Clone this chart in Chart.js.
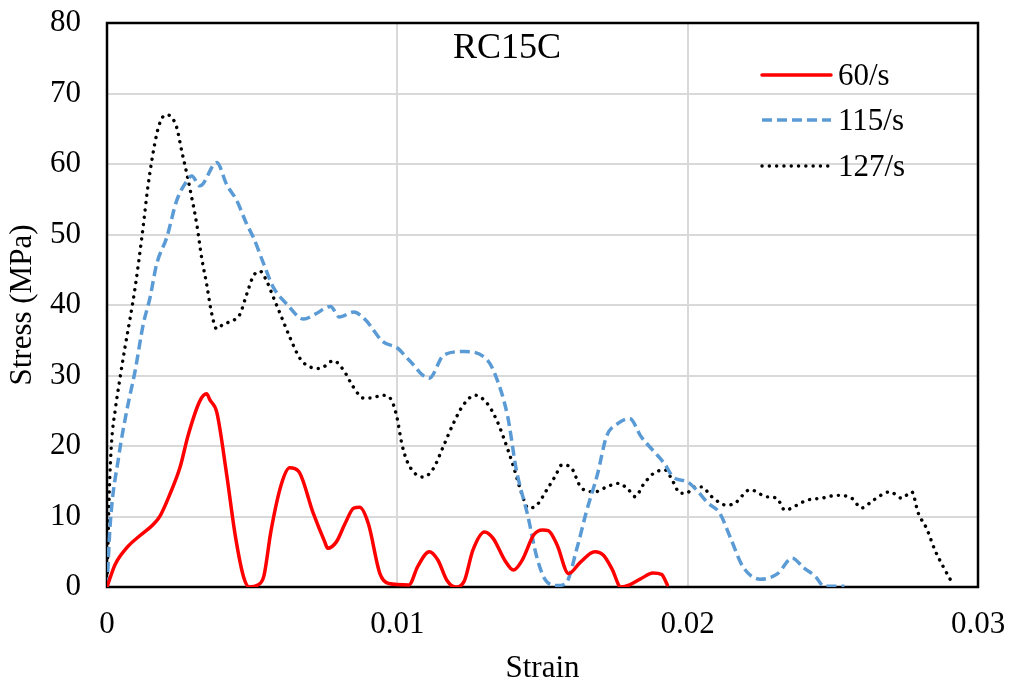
<!DOCTYPE html>
<html>
<head>
<meta charset="utf-8">
<script src="https://cdn.jsdelivr.net/npm/chart.js@4.4.1/dist/chart.umd.min.js"></script>
<style>
  html, body { margin: 0; padding: 0; background: #fff; }
  #wrap { width: 1011px; height: 684px; }
</style>
</head>
<body>
<div id="wrap"><canvas id="myChart" width="1011" height="684"></canvas></div>
<script>
// values
var chartTitle = "RC15C";
var seriesNames = ["60/s", "115/s", "127/s"];
var xTicks = [0, 0.01, 0.02, 0.03];
var yTicks = [0, 10, 20, 30, 40, 50, 60, 70, 80];

var strain60 = [0, 0.00028, 0.00073, 0.00114, 0.0016, 0.00183, 0.00217, 0.00251, 0.0028, 0.0032,
  0.00343, 0.00355, 0.00378, 0.00412, 0.00441, 0.0047, 0.0049, 0.0052, 0.0054, 0.00565,
  0.006, 0.00629, 0.0066, 0.0071, 0.0075, 0.0076, 0.0079, 0.0082, 0.0085, 0.0087,
  0.009, 0.0094, 0.0097, 0.0104, 0.0107, 0.0111, 0.0114, 0.0117, 0.012, 0.0123,
  0.0126, 0.013, 0.0133, 0.0137, 0.014, 0.0143, 0.0147, 0.015, 0.0152, 0.0155,
  0.0159, 0.0163, 0.0168, 0.0171, 0.0174, 0.0177, 0.018, 0.0184, 0.0188, 0.0191, 0.0193];
var stress60 = [0, 3.2, 5.8, 7.3, 8.9, 10.1, 13.2, 16.9, 21.6, 26.4,
  27.4, 26.5, 24.8, 16.0, 7.5, 1.5, 0, 0.3, 1.5, 8.0,
  14.5, 16.9, 16.4, 10.5, 6.4, 5.5, 6.4, 9.0, 11.2, 11.3,
  9.0, 1.9, 0.5, 0.3, 2.9, 5.0, 3.8, 1, 0, 0.8,
  5.2, 7.8, 6.9, 3.8, 2.4, 3.8, 7.4, 8.1, 8.0, 6.0,
  1.9, 3.5, 5.0, 4.5, 2.5, 0, 0.3, 1.2, 2.0, 1.8, 0.3];

var strain115 = [0, 0.00011, 0.0004, 0.00068, 0.00097, 0.00125, 0.00148, 0.00171, 0.00206, 0.0024,
  0.00275, 0.00292, 0.0032, 0.00378, 0.00412, 0.00447, 0.00481, 0.00504, 0.0054, 0.00573,
  0.0062, 0.00677, 0.00717, 0.0077, 0.008, 0.0085, 0.0089, 0.0095, 0.01, 0.0104,
  0.0111, 0.0116, 0.0123, 0.0131, 0.0134, 0.0138, 0.0141, 0.0145, 0.0148, 0.0151,
  0.0155, 0.0158, 0.0162, 0.0165, 0.0169, 0.0172, 0.0176, 0.018, 0.0184, 0.0188,
  0.0192, 0.0195, 0.02, 0.0203, 0.0207, 0.0211, 0.0215, 0.0219, 0.0225, 0.0231,
  0.0236, 0.024, 0.0244, 0.0247, 0.0254];
var stress115 = [0, 8.9, 18.4, 25, 30.7, 37.3, 41, 45.8, 49.6, 54.8,
  57.6, 58.3, 56.9, 60.2, 57.1, 54.8, 51.5, 49.6, 45.8, 42.5,
  40.1, 38, 38.7, 39.8, 38.3, 39.0, 37.9, 34.8, 33.9, 32.2,
  29.6, 32.9, 33.4, 32.2, 29.8, 24.2, 16.6, 10.0, 4.3, 1.0,
  0.2, 0.5, 5.7, 10.5, 16.1, 21.3, 23.2, 23.9, 21.3, 19.4,
  17.5, 15.6, 14.9, 13.8, 11.9, 10.5, 6.7, 2.9, 1.1, 1.9,
  4.1, 2.7, 1.5, 0.1, 0.1];

var strain127 = [0, 0.00008, 0.00016, 0.00028, 0.00045, 0.00062, 0.0008, 0.00097, 0.0012, 0.00142,
  0.00171, 0.00188, 0.00206, 0.00223, 0.0024, 0.00257, 0.00275, 0.00292, 0.00309, 0.00326,
  0.00343, 0.00361, 0.00378, 0.00401, 0.00435, 0.00458, 0.00481, 0.00504, 0.00527, 0.0055,
  0.00573, 0.00602, 0.0063, 0.00665, 0.007, 0.00734, 0.0078, 0.00814, 0.00848, 0.00883,
  0.00912, 0.00946, 0.00975, 0.00998, 0.01015, 0.01032, 0.01061, 0.0109, 0.01124, 0.01158,
  0.01193, 0.01227, 0.01268, 0.01308, 0.01342, 0.01365, 0.014, 0.01428, 0.01451, 0.0148,
  0.01515, 0.01545, 0.01566, 0.01595, 0.01635, 0.01681, 0.01721, 0.01761, 0.01796, 0.01819,
  0.01847, 0.01882, 0.01922, 0.0195, 0.01974, 0.01997, 0.0202, 0.02048, 0.02083, 0.02134,
  0.02163, 0.02215, 0.02272, 0.02307, 0.02335, 0.02376, 0.0241, 0.02462, 0.02513, 0.02565,
  0.02599, 0.02639, 0.02697, 0.02737, 0.02772, 0.02794, 0.02823, 0.02852, 0.0288, 0.02915];
var stress127 = [0, 13.6, 20.7, 25, 29.7, 34, 38.2, 42.5, 49.6, 57.1,
  64.2, 66.4, 67, 66.6, 65.2, 61.9, 58.6, 55.2, 51.5, 46.7,
  43, 38.7, 36.6, 37.3, 37.8, 38.7, 41.5, 44.1, 44.8, 43.4,
  41.1, 38.2, 35.4, 32.4, 31.2, 31, 32.1, 30.8, 28.4, 26.8,
  26.8, 27.2, 26.8, 24.2, 20.4, 18.0, 16.1, 15.6, 16.8, 19.9,
  23.2, 25.8, 27.2, 26.1, 23.7, 21.3, 17.1, 13.3, 11.2, 11.6,
  13.8, 15.8, 17.3, 17.1, 14.0, 13.5, 14.2, 14.7, 13.8, 12.8,
  14.5, 16.1, 16.6, 14.9, 13.3, 13.3, 14.2, 14.2, 12.8, 11.6,
  11.9, 13.8, 12.8, 12.6, 10.9, 11.6, 12.3, 12.6, 13.0, 12.6,
  11.2, 12.3, 13.5, 12.6, 13.5, 10.5, 8.3, 5.2, 2.9, 0.3];

var FONT = '"Liberation Serif", "Times New Roman", serif';

function toPoints(xs, ys) {
  var pts = [];
  for (var i = 0; i < xs.length; i++) pts.push({ x: xs[i], y: ys[i] });
  return pts;
}

// black frame round the plot area
var framePlugin = {
  id: "frame",
  beforeDatasetsDraw: function (chart) {
    var a = chart.chartArea, ctx = chart.ctx;
    ctx.save();
    ctx.strokeStyle = "#000";
    ctx.lineWidth = 2.5;
    ctx.strokeRect(a.left, a.top, a.right - a.left, a.bottom - a.top);
    ctx.restore();
  },
};

// title and legend sit inside the plot area
var insidePlugin = {
  id: "inside",
  afterDraw: function (chart) {
    var ctx = chart.ctx;
    ctx.save();
    ctx.fillStyle = "#000";
    ctx.textAlign = "center";
    ctx.textBaseline = "alphabetic";
    ctx.font = "36px " + FONT;
    ctx.fillText(chartTitle, 507, 58);

    var rows = [75, 120, 166];
    ctx.font = "31px " + FONT;
    ctx.textAlign = "left";
    chart.data.datasets.forEach(function (ds, i) {
      ctx.beginPath();
      ctx.strokeStyle = ds.borderColor;
      ctx.lineWidth = ds.borderWidth;
      ctx.lineCap = ds.borderCapStyle || "butt";
      ctx.setLineDash(ds.borderDash || []);
      ctx.moveTo(762, rows[i]);
      ctx.lineTo(831, rows[i]);
      ctx.stroke();
      ctx.setLineDash([]);
      ctx.fillText(ds.label, 838, rows[i] + 10);
    });
    ctx.restore();
  },
};

new Chart("myChart", {
  type: "scatter",
  data: {
    datasets: [
      {
        label: seriesNames[0],
        data: toPoints(strain60, stress60),
        borderColor: "#ff0000",
        borderWidth: 3.5,
        borderCapStyle: "round",
      },
      {
        label: seriesNames[1],
        data: toPoints(strain115, stress115),
        borderColor: "#5b9bd5",
        borderWidth: 3.5,
        borderDash: [10, 5],
      },
      {
        label: seriesNames[2],
        data: toPoints(strain127, stress127),
        borderColor: "#000000",
        borderWidth: 3.4,
        borderDash: [0.1, 7.2],
        borderCapStyle: "round",
      },
    ].map(function (d) {
      d.showLine = true;
      d.pointRadius = 0;
      d.pointHoverRadius = 0;
      d.fill = false;
      d.tension = 0.4;
      d.cubicInterpolationMode = "monotone";
      return d;
    }),
  },
  options: {
    responsive: false,
    animation: false,
    layout: { padding: { top: 23, right: 33, left: 0, bottom: 0 } },
    plugins: {
      legend: { display: false },
      tooltip: { enabled: false },
      title: { display: false },
    },
    scales: {
      x: {
        type: "linear",
        min: 0,
        max: 0.03,
        afterBuildTicks: function (s) {
          s.ticks = xTicks.map(function (v) { return { value: v }; });
        },
        afterFit: function (s) {
          s.height = 97;
          s.paddingLeft = 0;
          s.paddingRight = 0;
        },
        grid: {
          color: function (c) {
            return c.tick && (c.tick.value === 0 || c.tick.value === 0.03) ? "rgba(0,0,0,0)" : "#d9d9d9";
          },
          lineWidth: 2,
          drawTicks: false,
        },
        border: { display: false },
        ticks: {
          color: "#000",
          padding: 19,
          maxRotation: 0,
          font: { family: FONT, size: 31 },
          callback: function (v) { return v === 0 ? "0" : String(Number(v.toFixed(3))); },
        },
        title: {
          display: true,
          text: "Strain",
          color: "#000",
          font: { family: FONT, size: 31, lineHeight: 1 },
          padding: { top: 0, bottom: 0 },
        },
      },
      y: {
        min: 0,
        max: 80,
        afterBuildTicks: function (s) {
          s.ticks = yTicks.map(function (v) { return { value: v }; });
        },
        afterFit: function (s) {
          s.width = 107;
          s.paddingTop = 0;
          s.paddingBottom = 0;
        },
        grid: { color: "#d9d9d9", lineWidth: 2, drawTicks: false },
        border: { display: false },
        ticks: {
          color: "#000",
          padding: 26,
          font: { family: FONT, size: 31 },
        },
        title: {
          display: true,
          text: "Stress (MPa)",
          color: "#000",
          font: { family: FONT, size: 31, lineHeight: 1.2 },
          padding: { top: 4, bottom: 0 },
        },
      },
    },
  },
  plugins: [framePlugin, insidePlugin],
});
</script>
</body>
</html>
